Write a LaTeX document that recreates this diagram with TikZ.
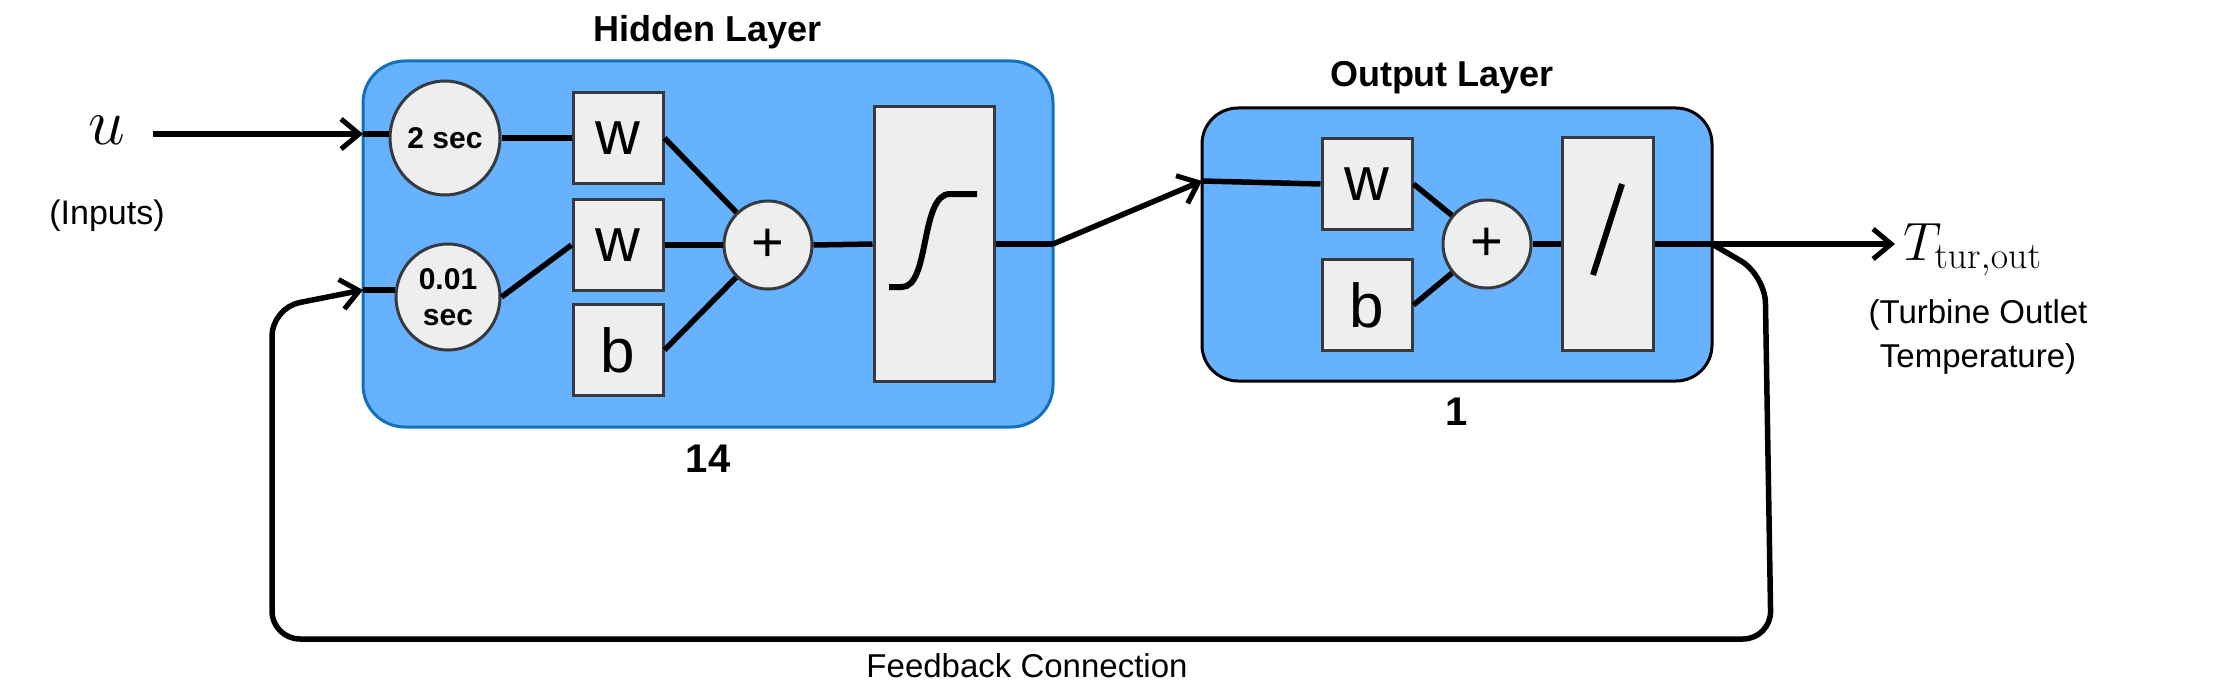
\documentclass[tikz,border=0pt]{standalone}
\usepackage{fix-cm}
\usepackage[no-math]{fontspec}
\setmainfont{Liberation Sans}
\usetikzlibrary{shapes.geometric,arrows.meta}
\definecolor{lay}{HTML}{66B2FF}
\definecolor{layb}{HTML}{1070B8}
\definecolor{inn}{HTML}{EEEEEE}
\definecolor{innb}{HTML}{36393D}
\begin{document}
\begin{tikzpicture}[x=1pt,y=-1pt,
  layer/.style={draw,line width=3pt,fill=lay,rounded corners=42pt},
  cell/.style={draw=innb,line width=3pt,fill=inn,minimum width=90pt,minimum height=91pt,inner sep=0pt,font=\fontsize{62}{66}\selectfont},
  circ/.style={ellipse,draw=innb,line width=3pt,fill=inn,inner sep=0pt,font=\bfseries\fontsize{30}{34}\selectfont,align=center},
  plus/.style={circle,draw=innb,line width=3pt,fill=inn,minimum size=88pt,inner sep=0pt,font=\fontsize{56}{56}\selectfont},
  wire/.style={line width=5.5pt},
  arr/.style={wire,-{Straight Barb[length=18pt,width=30pt,line width=5pt]}},
  lbl/.style={font=\fontsize{34}{40}\selectfont,align=center}]
\useasboundingbox (0,0) rectangle (2226,690);
% layers
\draw[layer,draw=layb] (363,61) rectangle (1053,427);
\draw[layer,rounded corners=36pt] (1202,108) rectangle (1712,381);
\node[font=\bfseries\fontsize{36}{40}\selectfont] (hl) at (708,32) {Hidden Layer};
\node[font=\bfseries\fontsize{36}{40}\selectfont] (ol) at (1442,78) {Output Layer};
\node[font=\bfseries\fontsize{40}{44}\selectfont] (n14) at (708,459) {14};
\node[font=\bfseries\fontsize{40}{44}\selectfont] (n1) at (1457,412) {1};
% hidden
\node[circ,minimum width=110pt,minimum height=114pt] (d1) at (445,138) {2 sec};
\node[circ,minimum width=104pt,minimum height=106pt] (d2) at (448,297) {0.01\\[2pt]sec};
\node[cell] (w1) at (618,138) {w};
\node[cell] (w2) at (618,245) {w};
\node[cell] (b1) at (618,350) {b};
\node[plus] (p1) at (768,245) {+};
\node[draw=innb,line width=3pt,fill=inn,minimum width=120pt,minimum height=274pt,inner sep=0pt] (sg) at (934,244) {};
\draw[line width=6pt] (889,287) -- (902,287) .. controls (930,287) and (920,194) .. (950,194) -- (977,194);
% output
\node[cell] (w3) at (1367,184) {w};
\node[cell] (b3) at (1367,305) {b};
\node[plus] (p2) at (1487,244) {+};
\node[draw=innb,line width=3pt,fill=inn,minimum width=91pt,minimum height=213pt,inner sep=0pt] (lin) at (1608,244) {};
\draw[line width=6pt] (1622,184) -- (1593,275);
% labels
\node[font=\fontsize{66}{66}\selectfont] (u) at (107,130) {$u$};
\node[lbl] (inp) at (107,216) {(Inputs)};
\node[font=\fontsize{54}{54}\selectfont,anchor=west] (T) at (1900,250) {$T_{\mathrm{tur,out}}$};
\node[lbl,font=\fontsize{33}{44}\selectfont] (tt) at (1978,337) {(Turbine Outlet\\Temperature)};
\node[lbl,font=\fontsize{33}{40}\selectfont] (fb) at (1027,666) {Feedback Connection};
% coordinates
\coordinate (ua) at (153,134);
\coordinate (he1) at (363,134);
\coordinate (he2) at (363,290);
\coordinate (ho) at (1053,244);
\coordinate (oi) at (1202,181);
\coordinate (oo) at (1712,244);
\coordinate (te) at (1895,244);
\coordinate (f1) at (1765,275);
\coordinate (f2) at (1771,639);
\coordinate (f3) at (272,639);
\coordinate (f4) at (272,308);
% wires
\draw[arr] (ua) -- (he1);
\draw[wire] (he1) -- (d1.west|-he1);
\draw[wire] (he2) -- (d2.west|-he2);
\draw[wire] (d1.east) -- (w1.west);
\draw[wire] (d2.east) -- (w2.west);
\draw[wire] (w1.east) -- (p1);
\draw[wire] (w2.east) -- (p1.west);
\draw[wire] (b1.east) -- (p1);
\draw[wire] (p1.east) -- (sg.west);
\draw[wire] (sg.east) -- (ho);
\draw[arr] (ho) -- (oi);
\draw[wire] (oi) -- (w3.west);
\draw[wire] (w3.east) -- (p2);
\draw[wire] (b3.east) -- (p2);
\draw[wire] (p2.east) -- (lin.west);
\draw[wire] (lin.east) -- (oo);
\draw[arr] (oo) -- (te);
\draw[arr,rounded corners=28pt] (oo) -- (f1) -- (f2) -- (f3) -- (f4) -- (he2);
\end{tikzpicture}
\end{document}
